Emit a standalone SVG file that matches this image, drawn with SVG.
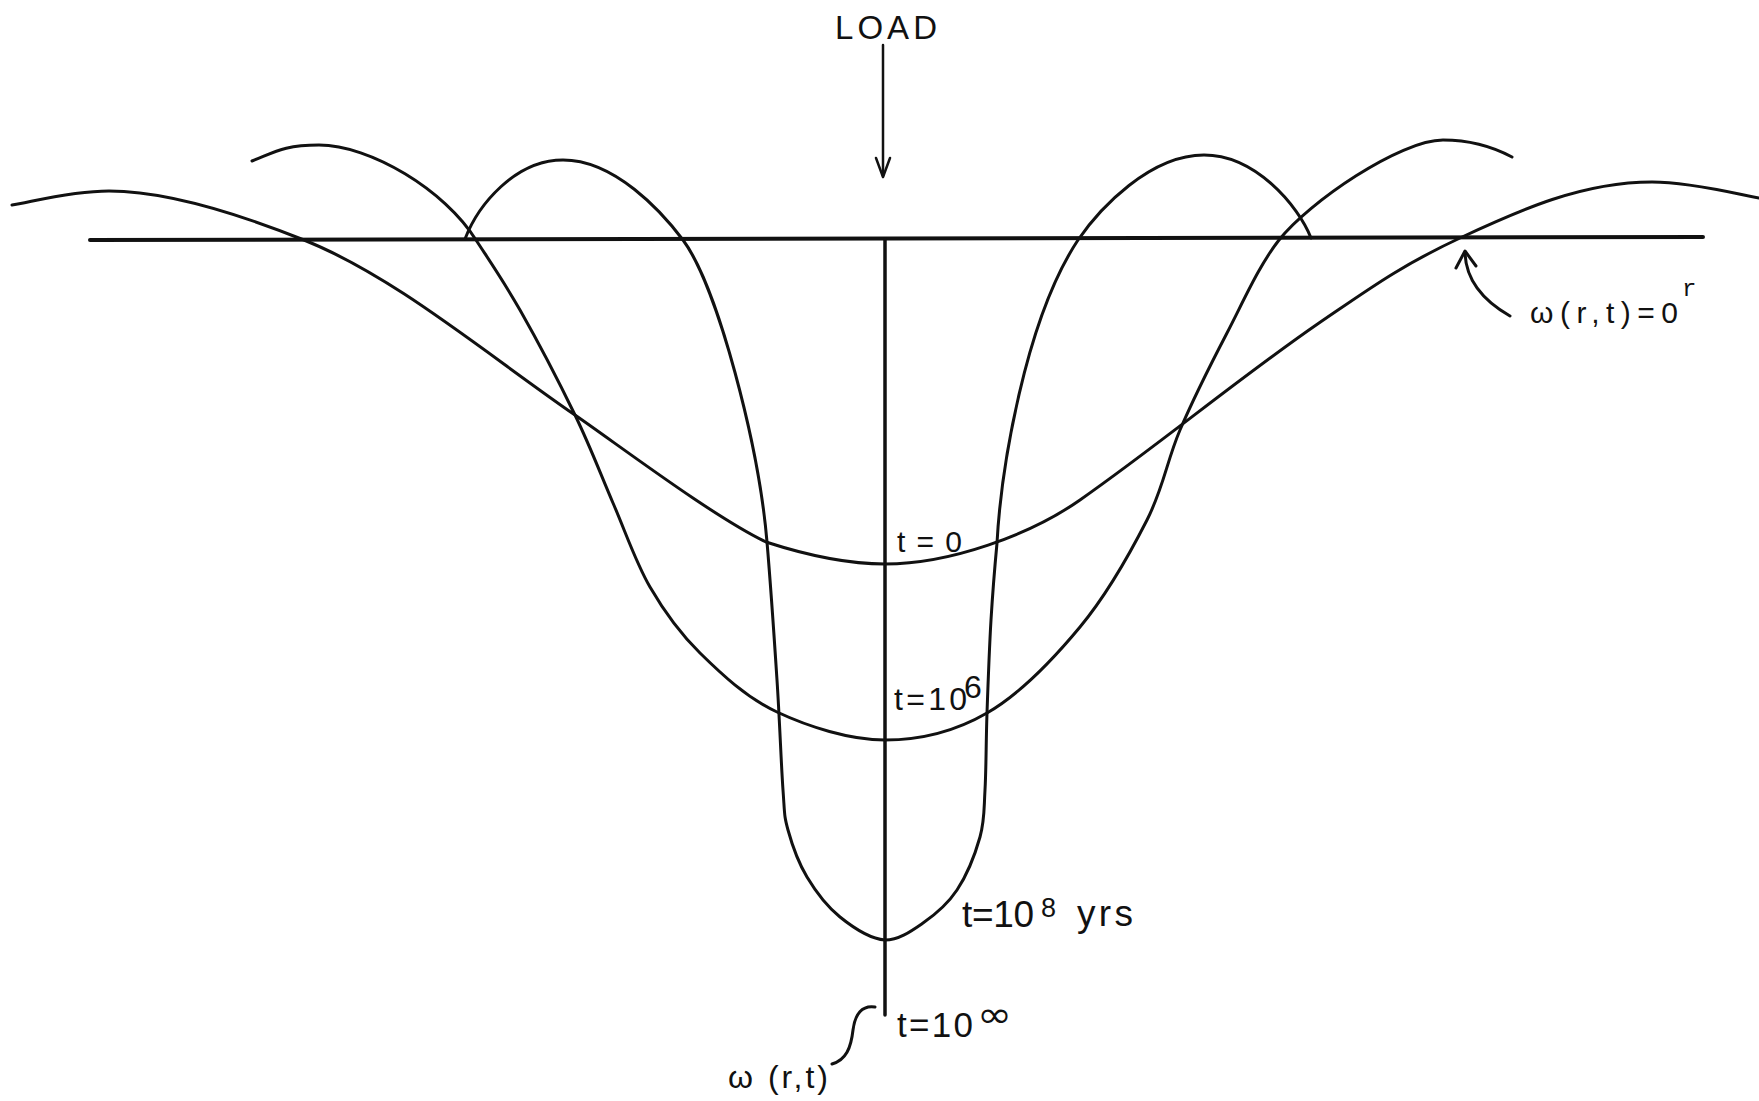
<svg xmlns="http://www.w3.org/2000/svg" width="1759" height="1101" viewBox="0 0 1759 1101">
<style>
  .ln{fill:none;stroke:#111;stroke-width:3;stroke-linecap:round;stroke-linejoin:round}
  .ax{fill:none;stroke:#111;stroke-width:4;stroke-linecap:round}
  .lb{font-family:"Liberation Sans","DejaVu Sans",sans-serif;fill:#111}
  .sym{font-family:"DejaVu Sans","Liberation Sans",sans-serif;fill:#111}
</style>
<rect width="1759" height="1101" fill="#fff"/>
<g id="axes">
  <line class="ax" x1="90" y1="240" x2="1703" y2="237"/>
  <line class="ln" x1="885" y1="239" x2="885" y2="1015" style="stroke-width:3.5"/>
</g>
<g id="curve-t0">
  <path class="ln" d="M12,205 C28,203 69,191 109,191 C169,191 244,216 304,240 C394,276 485,353 575,415 C624,449 714,517 766,542 C806,555 845,564 885,564 C950,564 1030,535 1080,500 C1160,444 1239,378 1319,323 C1369,289 1400,266 1460,238 C1520,210 1582,182 1652,182 C1692,182 1741,195 1759,198"/>
</g>
<g id="curve-t1e6">
  <path class="ln" d="M252,161 C275,152 284,145 319,145 C370,145 445,190 476,240 C491,263 503.5,281 520,310 C536.5,339 559.5,383 575,415 C590.5,447 600.5,474 613,503 C625.5,531.7 635.5,562 650,587 C664.5,612 678.8,632.2 700,653 C721.2,673.8 746,697.5 777,712 C807.8,726.5 850,740 885,740 C920,740 954.5,731.8 987,713 C1019.5,694.2 1053.3,659.2 1080,627 C1106.7,594.8 1130.3,552.8 1147,520 C1163.7,487.2 1166.7,461.2 1180,430 C1193.3,398.8 1210.5,364.7 1227,333 C1243.5,301.3 1258.8,265.8 1279,240 C1309,202 1400,140 1443,140 C1473,140 1497,149 1512,157"/>
</g>
<g id="curve-t1e8">
  <path class="ln" d="M465,239 C478,205 515,160 563,160 C615,160 662,212 683,240 C718,287 759,447 767,542 C770.3,580.8 774.3,638.7 777,680 C779.7,721.3 781.2,765 783,790 C784.8,815 784,815.5 788,830 C792,844.5 798.3,862.5 807,877 C815.7,891.5 827,906.5 840,917 C853,927.5 871.2,939 885,940 C898.8,940 911,931.3 923,923 C935,914.7 947.5,904.3 957,890 C966.5,875.7 975.3,853.7 980,837 C984.7,820.3 983.8,810.7 985,790 C986.2,769.3 986,741.3 987,713 C988,684.7 989.3,648.3 991,620 C992.7,591.7 994.3,571.8 997,543 C1001,470 1025,320 1078,240 C1100,208 1150,155 1204,155 C1255,155 1298,205 1311,238"/>
</g>
<g id="connectors">
  <line class="ln" x1="883" y1="45" x2="883" y2="176" style="stroke-width:2.5"/>
  <polyline class="ln" points="876,158 883,177 890,158" style="stroke-width:2.5"/>
  <path class="ln" d="M1510,316 C1482,300 1466,280 1465,253"/>
  <polyline class="ln" points="1456,268 1465,251 1476,266"/>
  <path class="ln" d="M875,1007 C862,1005 855,1014 853,1030 C851,1048 846,1060 832,1064"/>
</g>
<g id="label-load">
  <text class="lb" x="835" y="39" font-size="33" textLength="102" lengthAdjust="spacing">LOAD</text>
</g>
<g id="label-t0">
  <text class="lb" x="897" y="552" font-size="30" textLength="65" lengthAdjust="spacing">t=0</text>
</g>
<g id="label-t1e6">
  <text class="lb" x="894" y="710" font-size="32" textLength="73" lengthAdjust="spacing">t=10</text>
  <text class="lb" x="964" y="698" font-size="32">6</text>
</g>
<g id="label-t1e8">
  <text class="lb" x="962" y="927" font-size="37" textLength="72" lengthAdjust="spacing">t=10</text>
  <text class="lb" x="1041" y="917" font-size="27">8</text>
  <text class="lb" x="1077" y="926" font-size="37" textLength="56" lengthAdjust="spacing">yrs</text>
</g>
<g id="label-tinf">
  <text class="lb" x="897" y="1037" font-size="35" textLength="76" lengthAdjust="spacing">t=10</text>
  <text class="sym" x="977" y="1027" font-size="36" textLength="35" lengthAdjust="spacingAndGlyphs">∞</text>
</g>
<g id="label-w">
  <text class="lb" x="728" y="1088" font-size="32" textLength="100" lengthAdjust="spacing">ω (r,t)</text>
</g>
<g id="label-w0">
  <text class="lb" x="1530" y="323" font-size="30" textLength="148" lengthAdjust="spacing">ω(r,t)=0</text>
  <text x="1682" y="296" font-size="24" style="font-family:'Liberation Mono',monospace;fill:#111">r</text>
</g>
</svg>
